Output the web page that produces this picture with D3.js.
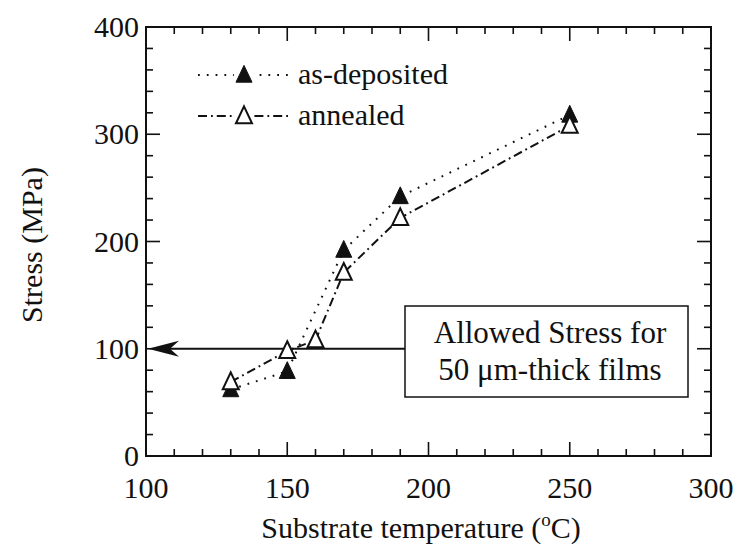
<!DOCTYPE html>
<html>
<head>
<meta charset="utf-8">
<script src="https://cdn.jsdelivr.net/npm/d3@7"></script>
<style>
  html, body { margin: 0; padding: 0; background: #fff; }
  svg { display: block; }
</style>
</head>
<body>
<svg id="chart" width="735" height="550"></svg>
<script>
// Film stress versus substrate temperature
const depositedTemp   = [130, 150, 170, 190, 250];
const depositedStress = [62, 79, 192, 242, 318];
const annealedTemp    = [130, 150, 160, 170, 190, 250];
const annealedStress  = [69, 98, 108, 171, 222, 308];
const xTicks = [100, 150, 200, 250, 300];
const yTicks = [0, 100, 200, 300, 400];
const allowedStress = 100;
const legendLabels = ["as-deposited", "annealed"];
const noteLines = ["Allowed Stress for", "50 \u03bcm-thick films"];

const serif = "'Liberation Serif', 'Times New Roman', Times, serif";
const svg = d3.select("#chart").style("font-family", serif);
const plotL = 146, plotR = 711, plotT = 27, plotB = 456;

const x = d3.scaleLinear().domain([100, 300]).range([plotL, plotR]);
const y = d3.scaleLinear().domain([0, 400]).range([plotB, plotT]);

const ink = "#111";
const fs = 30;

// frame
svg.append("rect")
  .attr("x", plotL).attr("y", plotT)
  .attr("width", plotR - plotL).attr("height", plotB - plotT)
  .attr("fill", "none").attr("stroke", ink).attr("stroke-width", 2);

// inward ticks on all four sides
const minorX = d3.range(100, 301, 10);
const minorY = d3.range(0, 401, 20);
const tickG = svg.append("g").attr("stroke", ink).attr("stroke-width", 1.6);
minorX.forEach(v => {
  const len = v % 50 === 0 ? 14 : 7;
  tickG.append("line").attr("x1", x(v)).attr("x2", x(v)).attr("y1", plotB).attr("y2", plotB - len);
  tickG.append("line").attr("x1", x(v)).attr("x2", x(v)).attr("y1", plotT).attr("y2", plotT + len);
});
minorY.forEach(v => {
  const len = v % 100 === 0 ? 14 : 7;
  tickG.append("line").attr("y1", y(v)).attr("y2", y(v)).attr("x1", plotL).attr("x2", plotL + len);
  tickG.append("line").attr("y1", y(v)).attr("y2", y(v)).attr("x1", plotR).attr("x2", plotR - len);
});

// tick labels
svg.append("g").selectAll("text").data(xTicks).join("text")
  .attr("x", d => x(d)).attr("y", 498)
  .attr("text-anchor", "middle").attr("font-size", fs).attr("fill", ink)
  .text(d => d);
svg.append("g").selectAll("text").data(yTicks).join("text")
  .attr("x", 139).attr("y", d => y(d) + 10)
  .attr("text-anchor", "end").attr("font-size", fs).attr("fill", ink)
  .text(d => d);

// axis titles
const xt = svg.append("text")
  .attr("x", 421).attr("y", 538)
  .attr("text-anchor", "middle").attr("font-size", fs).attr("fill", ink);
xt.append("tspan").text("Substrate temperature (");
xt.append("tspan").attr("font-size", 19).attr("dy", -12).text("o");
xt.append("tspan").attr("dy", 12).text("C)");

svg.append("text")
  .attr("transform", "translate(42,245) rotate(-90)")
  .attr("text-anchor", "middle").attr("font-size", fs).attr("fill", ink)
  .text("Stress (MPa)");

// allowed-stress arrow
const arrowY = y(allowedStress);
svg.append("line")
  .attr("x1", x(100) + 20).attr("x2", 405)
  .attr("y1", arrowY).attr("y2", arrowY)
  .attr("stroke", ink).attr("stroke-width", 1.8);
const tipX = x(100) + 2;
svg.append("path")
  .attr("d", `M${tipX},${arrowY} L${tipX + 31},${arrowY - 8} L${tipX + 22},${arrowY} L${tipX + 31},${arrowY + 8} Z`)
  .attr("fill", ink);

// annotation box
svg.append("rect")
  .attr("x", 405).attr("y", 306).attr("width", 283).attr("height", 91)
  .attr("fill", "#fff").attr("stroke", ink).attr("stroke-width", 1.5);
svg.append("g").selectAll("text").data(noteLines).join("text")
  .attr("x", 550).attr("y", (d, i) => 343 + i * 37)
  .attr("text-anchor", "middle").attr("font-size", 31).attr("fill", ink)
  .text(d => d);

// series lines
const depDash = "1.8,7";
const annDash = "9,4,1.8,4";
const line = d3.line().x(d => x(d[0])).y(d => y(d[1]));
const depPts = depositedTemp.map((t, i) => [t, depositedStress[i]]);
const annPts = annealedTemp.map((t, i) => [t, annealedStress[i]]);

svg.append("path").attr("d", line(depPts))
  .attr("fill", "none").attr("stroke", ink).attr("stroke-width", 2)
  .attr("stroke-dasharray", depDash);
svg.append("path").attr("d", line(annPts))
  .attr("fill", "none").attr("stroke", ink).attr("stroke-width", 2)
  .attr("stroke-dasharray", annDash);

// triangle markers
const tri = (cx, cy, s) => `M${cx},${cy - s * 0.6} L${cx + s * 0.5},${cy + s * 0.45} L${cx - s * 0.5},${cy + s * 0.45} Z`;
svg.append("g").selectAll("path").data(depPts).join("path")
  .attr("d", d => tri(x(d[0]), y(d[1]), 16))
  .attr("fill", ink).attr("stroke", ink).attr("stroke-width", 1);
svg.append("g").selectAll("path").data(annPts).join("path")
  .attr("d", d => tri(x(d[0]), y(d[1]), 16))
  .attr("fill", "#fff").attr("stroke", ink).attr("stroke-width", 2);

// legend
const legendRows = [
  { label: legendLabels[0], dash: depDash, fill: ink, sw: 1, y: 75 },
  { label: legendLabels[1], dash: annDash, fill: "#fff", sw: 2, y: 116 }
];
legendRows.forEach(r => {
  svg.append("line").attr("x1", 198).attr("x2", 290)
    .attr("y1", r.y).attr("y2", r.y)
    .attr("stroke", ink).attr("stroke-width", 2).attr("stroke-dasharray", r.dash);
  svg.append("rect").attr("x", 234).attr("y", r.y - 11).attr("width", 20).attr("height", 20).attr("fill", "#fff");
  svg.append("path").attr("d", tri(244, r.y, 16))
    .attr("fill", r.fill).attr("stroke", ink).attr("stroke-width", r.sw);
  svg.append("text").attr("x", 298).attr("y", r.y + 9)
    .attr("font-size", fs).attr("fill", ink)
    .text(r.label);
});
</script>
</body>
</html>
